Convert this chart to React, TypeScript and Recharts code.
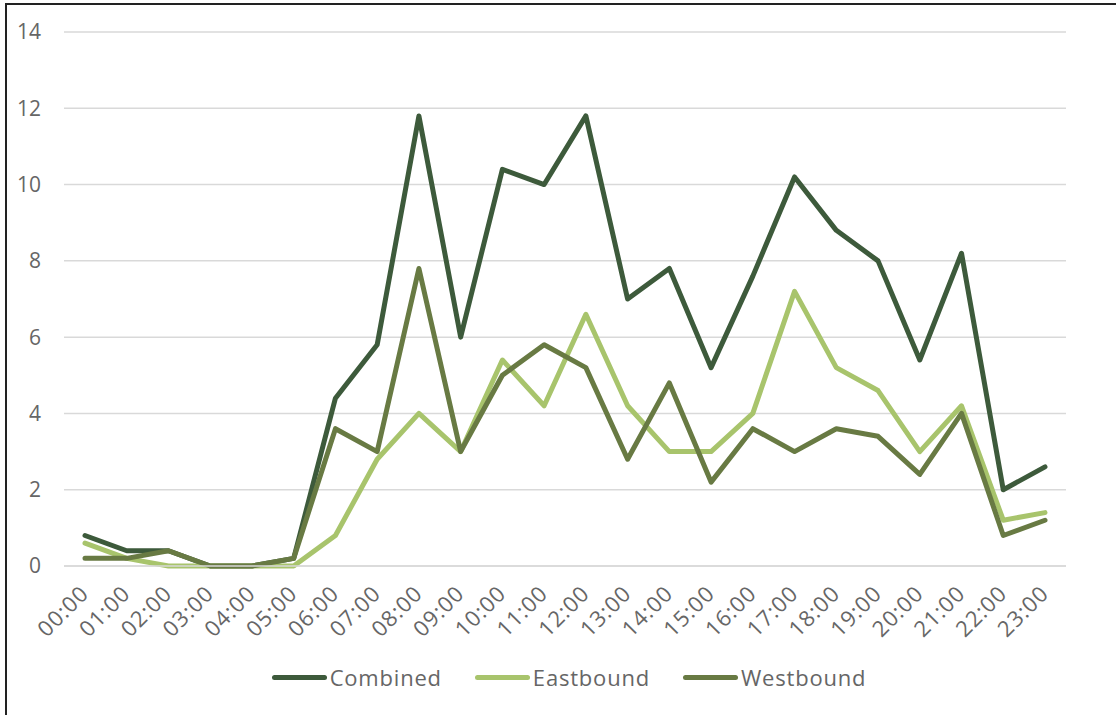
import React from "react";
import { LineChart, Line, XAxis, YAxis, CartesianGrid, Legend } from "recharts";

const hours = ["00:00","01:00","02:00","03:00","04:00","05:00","06:00","07:00","08:00","09:00","10:00","11:00","12:00","13:00","14:00","15:00","16:00","17:00","18:00","19:00","20:00","21:00","22:00","23:00"];
const combined = [0.8,0.4,0.4,0,0,0.2,4.4,5.8,11.8,6,10.4,10,11.8,7,7.8,5.2,7.6,10.2,8.8,8,5.4,8.2,2,2.6];
const eastbound = [0.6,0.2,0,0,0,0,0.8,2.8,4,3,5.4,4.2,6.6,4.2,3,3,4,7.2,5.2,4.6,3,4.2,1.2,1.4];
const westbound = [0.2,0.2,0.4,0,0,0.2,3.6,3,7.8,3,5,5.8,5.2,2.8,4.8,2.2,3.6,3,3.6,3.4,2.4,4,0.8,1.2];
const yTicks = [0,2,4,6,8,10,12,14];

const series = [
  { key: "Combined", color: "#3D5A3B", values: combined },
  { key: "Eastbound", color: "#A8C46C", values: eastbound },
  { key: "Westbound", color: "#687A43", values: westbound },
];

const data = hours.map((h, i) => ({
  hour: h,
  Combined: combined[i],
  Eastbound: eastbound[i],
  Westbound: westbound[i],
}));

const FONT = "'Open Sans', sans-serif";
const TEXT = "#666666";

const XTick = (props: any) => {
  const { x, y, payload } = props;
  const ax = x + 5;
  const ay = y + 21;
  return (
    <text
      x={ax}
      y={ay}
      transform={`rotate(-45, ${ax}, ${ay})`}
      textAnchor="end"
      fill={TEXT}
      fontSize={22}
      letterSpacing={1}
      fontFamily={FONT}
    >
      {payload.value}
    </text>
  );
};

const LegendContent = () => (
  <div style={{ display: "flex", justifyContent: "center", alignItems: "center", height: 30, fontFamily: FONT, paddingLeft: 22, boxSizing: "border-box" }}>
    {series.map((s, i) => (
      <div key={s.key} style={{ display: "flex", alignItems: "center", marginLeft: i === 0 ? 0 : 33 }}>
        <div style={{ width: 55, height: 5, borderRadius: 3, background: s.color, marginRight: 3 }} />
        <span style={{ fontSize: 22, letterSpacing: 0.8, color: TEXT }}>{s.key}</span>
      </div>
    ))}
  </div>
);

export default function App() {
  return (
    <div style={{ position: "absolute", left: 0, top: 0, width: 1116, height: 715, overflow: "hidden", background: "#fff" }}>
      <div style={{ position: "absolute", left: 5, top: 3, width: 1200, height: 800, border: "2px solid #222", boxSizing: "border-box" }} />
      <div style={{ position: "absolute", left: 0, top: 0 }}>
        <LineChart width={1116} height={715} data={data} margin={{ top: 32, right: 50, left: 8, bottom: 49 }}>
          <CartesianGrid vertical={false} stroke="#D9D9D9" strokeWidth={1.5} />
          <XAxis
            dataKey="hour"
            interval={0}
            height={70}
            tick={<XTick />}
            tickLine={false}
            axisLine={{ stroke: "#D9D9D9", strokeWidth: 1.5 }}
            padding={{ left: 21, right: 21 }}
          />
          <YAxis
            width={56}
            domain={[0, 14]}
            ticks={yTicks}
            tickLine={false}
            axisLine={false}
            tickMargin={17}
            tick={{ fill: TEXT, fontSize: 21, fontFamily: FONT }}
          />
          <Legend
            verticalAlign="bottom"
            content={<LegendContent />}
            wrapperStyle={{ left: 0, width: 1116, top: 662, bottom: "auto", height: 30 }}
          />
          {series.map((s) => (
            <Line
              key={s.key}
              type="linear"
              dataKey={s.key}
              stroke={s.color}
              strokeWidth={5}
              dot={false}
              activeDot={false}
              strokeLinejoin="round"
              strokeLinecap="round"
              isAnimationActive={false}
            />
          ))}
        </LineChart>
      </div>
    </div>
  );
}
